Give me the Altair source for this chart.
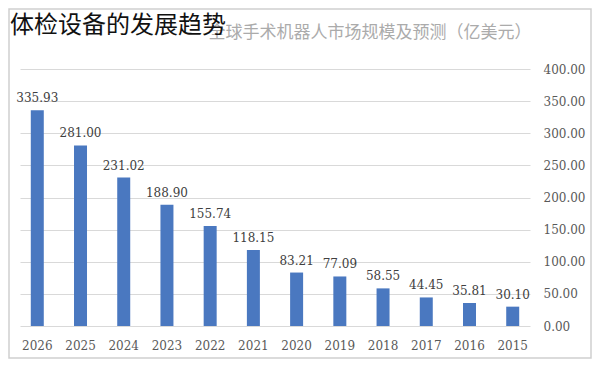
import altair as alt
import pandas as pd

years = ["2026", "2025", "2024", "2023", "2022", "2021", "2020", "2019", "2018", "2017", "2016", "2015"]
values = [335.93, 281.00, 231.02, 188.90, 155.74, 118.15, 83.21, 77.09, 58.55, 44.45, 35.81, 30.10]
y_ticks = [0, 50, 100, 150, 200, 250, 300, 350, 400]
chart_title = "全球手术机器人市场规模及预测（亿美元）"
overlay_title = "体检设备的发展趋势"

df = pd.DataFrame({"year": years, "value": values})

x_enc = alt.X("year:N", sort=years, title=None,
              scale=alt.Scale(paddingInner=0.7, paddingOuter=0.25),
              axis=alt.Axis(ticks=False, domain=False, labelAngle=0, labelFontSize=12,
                            labelColor="#595959", labelPadding=14, labelFont="DejaVu Serif"))
y_enc = alt.Y("value:Q", title=None,
              scale=alt.Scale(domain=[0, 400], nice=False),
              axis=alt.Axis(orient="right", values=y_ticks, format=".2f", ticks=False, domain=False,
                            labelFontSize=12, labelColor="#595959", labelPadding=13,
                            labelAlign="left", labelFont="DejaVu Serif", labelOverlap=False,
                            labelBound=False, gridColor="#d9d9d9", gridWidth=1))

base = alt.Chart(df)

bars = base.mark_bar(color="#4a78c0", size=13).encode(x=x_enc, y=y_enc)
labels = base.mark_text(dy=-12, fontSize=12, color="#404040", font="DejaVu Serif").encode(
    x=x_enc,
    y=y_enc,
    text=alt.Text("value:Q", format=".2f"),
)

frame = alt.Chart(pd.DataFrame({"a": [0]})).mark_rect(
    filled=False, stroke="#cfcfcf", strokeWidth=1.5, clip=False
).encode(x=alt.value(-11), x2=alt.value(571), y=alt.value(-60), y2=alt.value(289))

title_df = pd.DataFrame({"t": [chart_title]})
gray_title = alt.Chart(title_df).mark_text(
    fontSize=17, color="#ababab", font="Noto Sans CJK SC", align="center", baseline="middle"
).encode(x=alt.value(350), y=alt.value(-36), text="t:N")

over_df = pd.DataFrame({"t": [overlay_title]})
black_title = alt.Chart(over_df).mark_text(
    fontSize=24, color="#111111", font="Noto Sans CJK SC", align="left", baseline="alphabetic"
).encode(x=alt.value(-10), y=alt.value(-36), text="t:N")

chart = alt.layer(bars, labels, frame, gray_title, black_title).properties(
    width=510, height=257,
    autosize=alt.AutoSizeParams(type="none"),
    padding={"left": 12, "top": 61, "right": 62, "bottom": 33},
).configure(background="white").configure_view(strokeWidth=0)

chart.save("out.html", embed_options={"renderer": "svg", "actions": False})
